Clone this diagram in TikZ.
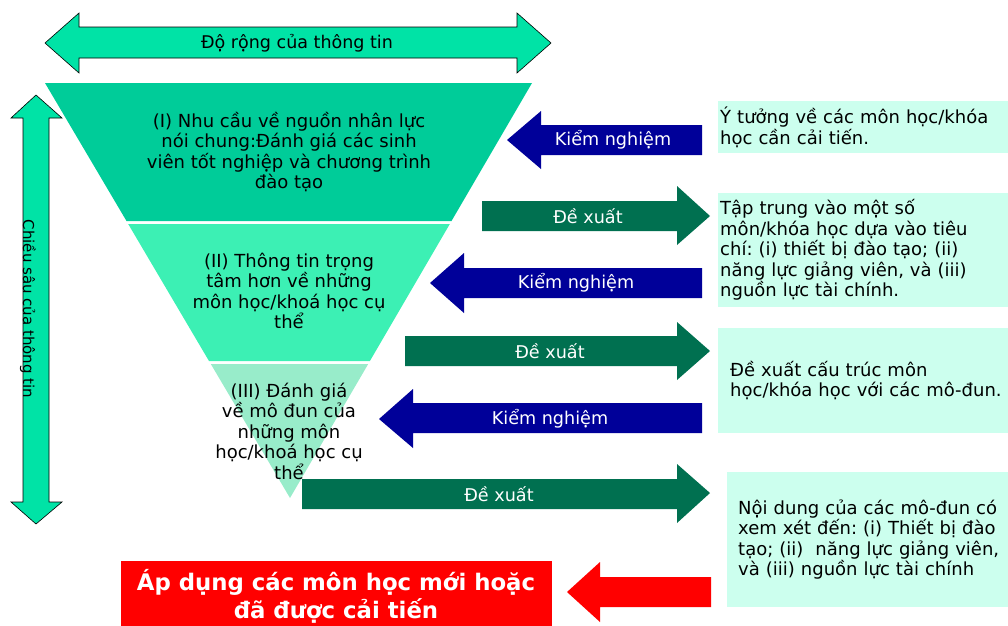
\documentclass[tikz,border=0pt]{standalone}
\usepackage{fontspec}
\setmainfont{DejaVu Sans}
\frenchspacing
\definecolor{widegreen}{RGB}{0,227,166}
\definecolor{lvlone}{RGB}{0,204,153}
\definecolor{lvltwo}{RGB}{60,240,180}
\definecolor{lvlthree}{RGB}{152,236,202}
\definecolor{kiemblue}{RGB}{0,0,153}
\definecolor{dxgreen}{RGB}{0,112,80}
\definecolor{mint}{RGB}{204,255,238}
\tikzset{
x=1pt, y=-1pt, % one unit is one pixel of the slide, y grows downwards
every node/.style={font=\fontsize{18}{20.5}\selectfont, inner sep=0pt}, % text of the slide
bigarrow/.style={fill=widegreen, draw=black, line width=0.6pt}, % the two double arrows
kiem/.style={fill=kiemblue}, % arrows pointing back to the funnel
dexuat/.style={fill=dxgreen}, % arrows pointing to the boxes
arrowtext/.style={text=white, font=\fontsize{17.6}{20}\selectfont}, % label on a block arrow
infobox/.style={fill=mint, anchor=north west, align=left}, % boxes on the right
lvltext/.style={align=center}, % text inside the funnel
}

\begin{document}
\begin{tikzpicture}
    \useasboundingbox (0,0) rectangle (1008,625);
    % width and depth arrows
    \draw[bigarrow] (45,43) -- (79,13) -- (79,27) -- (517,27) -- (517,13) -- (551,43)
        -- (517,73) -- (517,58) -- (79,58) -- (79,73) -- cycle;
    \node[font=\fontsize{17.5}{20}\selectfont] (width) at (297,43) {Độ rộng của thông tin};
    \draw[bigarrow] (36,95) -- (62,118) -- (49,118) -- (49,502) -- (62,502) -- (36,524)
        -- (11,502) -- (23,502) -- (23,118) -- (11,118) -- cycle;
    \node[rotate=-90, font=\fontsize{15}{18}\selectfont] (depth) at (28,309) {Chiều sâu của thông tin};
    % the funnel
    \fill[lvlone] (45,83) -- (532,83) -- (451.5,221) -- (126.5,221) -- cycle;
    \fill[lvltwo] (128.2,224) -- (449.8,224) -- (369.9,361) -- (209,361) -- cycle;
    \fill[lvlthree] (210.8,364) -- (368.2,364) -- (290,498) -- cycle;
    \node[lvltext] (lv1) at (289,152) {(I) Nhu cầu về nguồn nhân lực\\nói chung:Đánh giá các sinh\\viên tốt nghiệp và chương trình\\đào tạo};
    \node[lvltext] (lv2) at (289,291) {(II) Thông tin trọng\\tâm hơn về những\\môn học/khoá học cụ\\thể};
    \node[lvltext] (lv3) at (289,431) {(III) Đánh giá\\về mô đun của\\những môn\\học/khoá học cụ\\thể};
    % block arrows
    \fill[kiem] (507,140) -- (541,111) -- (541,125) -- (702,125) -- (702,155) -- (541,155) -- (541,169) -- cycle;
    \node[arrowtext] (kn1) at (613,140) {Kiểm nghiệm};
    \fill[dexuat] (482,201) -- (677,201) -- (677,186) -- (710,216) -- (677,245) -- (677,231) -- (482,231) -- cycle;
    \node[arrowtext] (dx1) at (588,216) {Đề xuất};
    \fill[kiem] (430,283) -- (464,253) -- (464,268) -- (702,268) -- (702,298) -- (464,298) -- (464,313) -- cycle;
    \node[arrowtext] (kn2) at (576,283) {Kiểm nghiệm};
    \fill[dexuat] (405,336) -- (677,336) -- (677,322) -- (710,351) -- (677,380) -- (677,366) -- (405,366) -- cycle;
    \node[arrowtext] (dx2) at (550,351) {Đề xuất};
    \fill[kiem] (379,419) -- (413,389) -- (413,403) -- (702,403) -- (702,433) -- (413,433) -- (413,448) -- cycle;
    \node[arrowtext] (kn3) at (550,419) {Kiểm nghiệm};
    \fill[dexuat] (302,479) -- (677,479) -- (677,464) -- (710,493) -- (677,523) -- (677,509) -- (302,509) -- cycle;
    \node[arrowtext] (dx3) at (499,494) {Đề xuất};
    \fill[red] (567,592) -- (600,562) -- (600,577) -- (711,577) -- (711,607) -- (600,607) -- (600,622) -- cycle;
    % result
    \fill[red] (121,561) rectangle (552,630);
    \node[text=white, align=center, font=\fontsize{22.8}{28}\selectfont\bfseries] (apply) at (336,596) {Áp dụng các môn học mới hoặc\\đã được cải tiến};
    % boxes on the right
    \node[infobox, inner xsep=2pt, text width=296pt, minimum height=52pt] (box1) at (718,101)
        {Ý tưởng về các môn học/khóa\\học cần cải tiến.};
    \node[infobox, inner xsep=2pt, text width=296pt, minimum height=114pt] (box2) at (718,193)
        {Tập trung vào một số\\môn/khóa học dựa vào tiêu\\chí: (i) thiết bị đào tạo; (ii)\\năng lực giảng viên, và (iii)\\nguồn lực tài chính.};
    \node[infobox, inner xsep=12pt, text width=276pt, minimum height=105pt] (box3) at (718,328)
        {Đề xuất cấu trúc môn\\học/khóa học với các mô-đun.};
    \node[infobox, inner xsep=11pt, text width=278pt, minimum height=135pt] (box4) at (727,472)
        {Nội dung của các mô-đun có\\xem xét đến: (i) Thiết bị đào\\tạo; (ii) \ năng lực giảng viên,\\và (iii) nguồn lực tài chính};
\end{tikzpicture}
\end{document}
